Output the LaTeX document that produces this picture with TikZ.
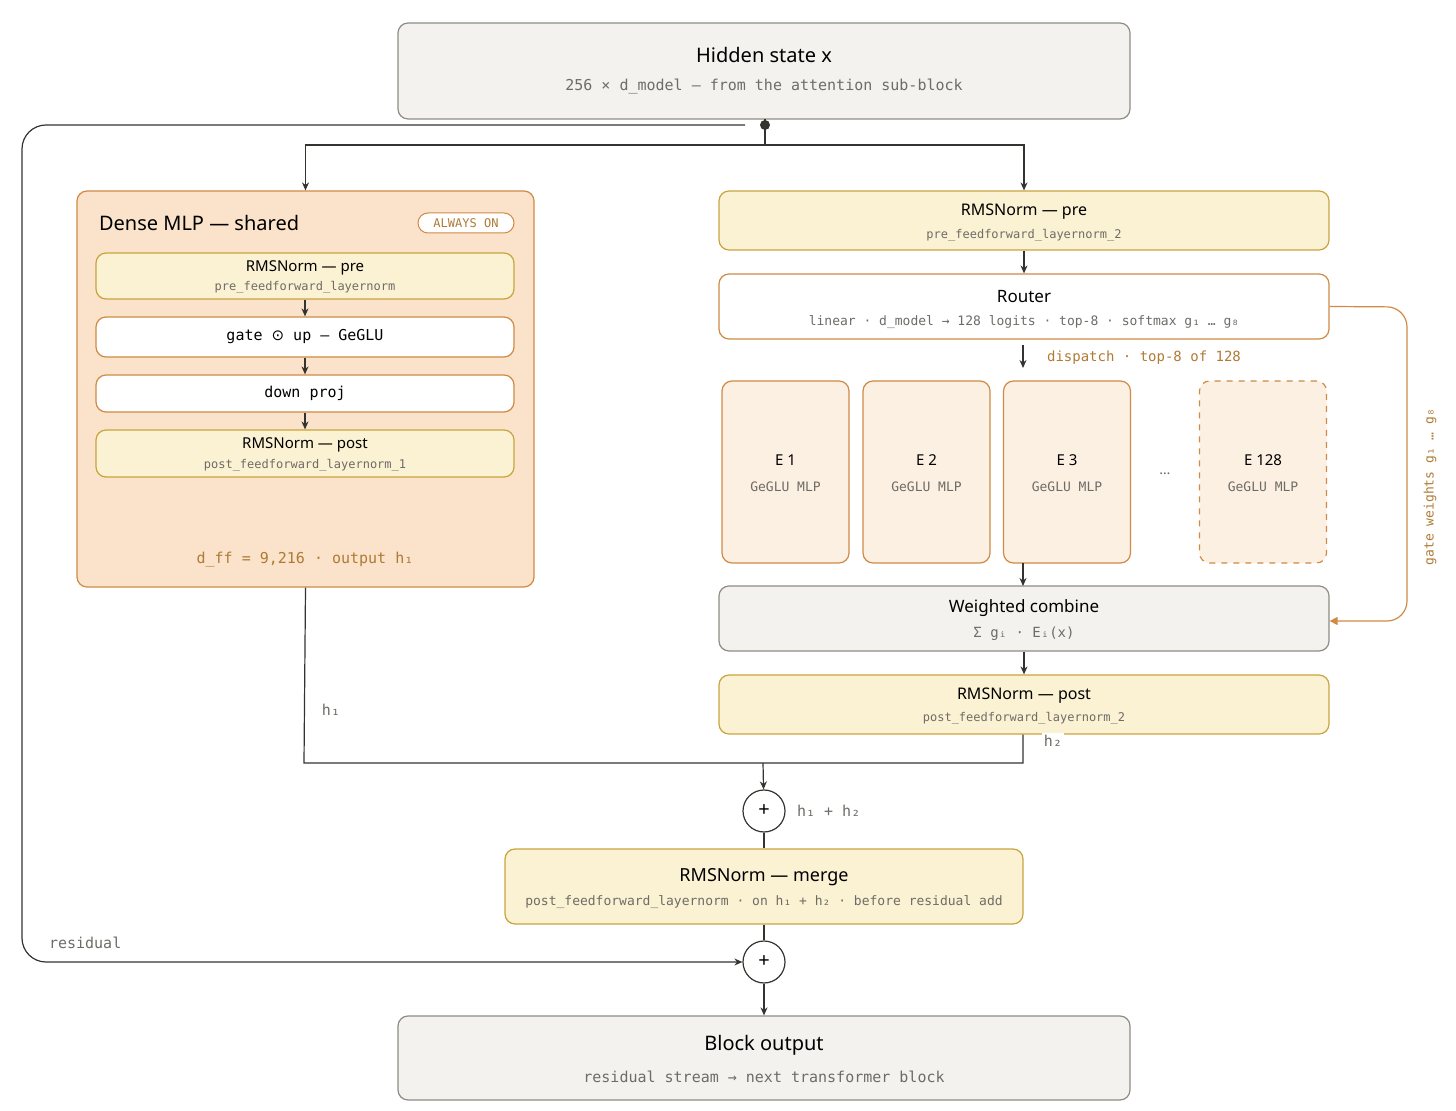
\documentclass[tikz,border=0pt]{standalone}
\usepackage{fontspec}
\setmainfont{Noto Sans}
\setmonofont{DejaVu Sans Mono}
\newfontfamily\symfont{DejaVu Sans}
\usetikzlibrary{arrows.meta,positioning}
\definecolor{ink}{HTML}{333330}
\definecolor{grayfill}{HTML}{F3F2EE}
\definecolor{graydraw}{HTML}{8E8C84}
\definecolor{yelfill}{HTML}{FBF1D3}
\definecolor{yeldraw}{HTML}{C9A43E}
\definecolor{orgdraw}{HTML}{CF8A45}
\definecolor{densefill}{HTML}{FAE3CA}
\definecolor{expfill}{HTML}{FCF0E3}
\definecolor{brown}{HTML}{B07A35}
\definecolor{subtxt}{HTML}{6E6C66}

\tikzset{
  box/.style={rounded corners=5pt, line width=0.6pt},
  graybox/.style={box, fill=grayfill, draw=graydraw},
  yelbox/.style={box, fill=yelfill, draw=yeldraw},
  whitebox/.style={box, fill=white, draw=orgdraw},
  expbox/.style={box, fill=expfill, draw=orgdraw, minimum width=63.5pt, minimum height=91pt},
  ttl/.style={font=\bfseries\fontsize{10}{12}\selectfont, text=black},
  lbl/.style={font=\fontsize{7.5}{9}\selectfont},
  sub/.style={font=\ttfamily\fontsize{6}{8}\selectfont, text=subtxt},
  arr/.style={-{Stealth[length=4pt,width=3.5pt]}, draw=ink, line width=0.6pt},
  plus/.style={circle, draw=ink, line width=0.6pt, fill=white, minimum size=21pt, inner sep=0pt, font=\fontsize{10}{10}\selectfont},
}

\begin{document}
\begin{tikzpicture}[x=0.5pt,y=-0.5pt]
\useasboundingbox (0,0) rectangle (1456,1111);

% top input
\node[graybox, minimum width=366pt, minimum height=48pt] (hid) at (764,71) {};
\node[ttl] (hidt) at (764,55) {Hidden state x};
\node[sub, font=\ttfamily\fontsize{7.5}{9}\selectfont] (hids) at (764,87) {256 × d\_model — from the attention sub-block};

% dense branch
\node[box, fill=densefill, draw=orgdraw, minimum width=228.5pt, minimum height=198pt] (dense) at (305.5,389) {};
\node[ttl, anchor=west] (denset) at (92,223) {Dense MLP — shared};
\node[draw=orgdraw, fill=white, rounded corners=5pt, line width=0.5pt, text=brown, font=\ttfamily\fontsize{6}{7}\selectfont, minimum width=48pt, minimum height=10pt, inner sep=1pt] (always) at (466,223) {ALWAYS ON};
\node[yelbox, minimum width=209pt, minimum height=23pt] (dpre) at (305,276) {};
\node[lbl, font=\bfseries\fontsize{7.5}{9}\selectfont] at (305,268) {RMSNorm — pre};
\node[sub] at (305,287) {pre\_feedforward\_layernorm};
\node[whitebox, minimum width=209pt, minimum height=20pt, font=\ttfamily\fontsize{7.5}{9}\selectfont] (dgate) at (305,337) {gate {\symfont ⊙} up — GeGLU};
\node[whitebox, minimum width=209pt, minimum height=18.5pt, font=\ttfamily\fontsize{7.5}{9}\selectfont] (ddown) at (305,393.5) {down proj};
\node[yelbox, minimum width=209pt, minimum height=23.5pt] (dpost) at (305,453.5) {};
\node[lbl, font=\bfseries\fontsize{7.5}{9}\selectfont] at (305,445) {RMSNorm — post};
\node[sub] at (305,465) {post\_feedforward\_layernorm\_1};
\node[font=\ttfamily\fontsize{7.5}{9}\selectfont, text=brown] (dff) at (305,560) {d\_ff = 9,216 · output h₁};
\draw[arr] (dpre) -- (dgate);
\draw[arr] (dgate) -- (ddown);
\draw[arr] (ddown) -- (dpost);

% moe branch
\node[yelbox, minimum width=305pt, minimum height=29.5pt] (mpre) at (1024,220.5) {};
\node[lbl, font=\bfseries\fontsize{8}{9}\selectfont] at (1024,212) {RMSNorm — pre};
\node[sub] at (1024,235) {pre\_feedforward\_layernorm\_2};
\node[whitebox, minimum width=305pt, minimum height=32.5pt] (router) at (1024,306.5) {};
\node[lbl, font=\bfseries\fontsize{8.5}{9}\selectfont] at (1024,297) {Router};
\node[sub, font=\ttfamily\fontsize{6.5}{8}\selectfont] at (1024,322) {linear · d\_model → 128 logits · top-8 · softmax g₁ … g₈};
\coordinate (disp) at (1023,368);
\draw[arr] (1023,345) -- (disp);
\node[anchor=west, font=\ttfamily\fontsize{7}{9}\selectfont, text=brown] (dispt) at (1040,358) {dispatch · top-8 of 128};

\foreach \i/\x in {1/785.5, 2/926.5, 3/1067} {
  \node[expbox] (e\i) at (\x,472) {};
  \node[font=\bfseries\fontsize{7.5}{9}\selectfont] at (\x,460) {E \i};
  \node[sub, font=\ttfamily\fontsize{6.5}{8}\selectfont] at (\x,487) {GeGLU MLP};
}
\node[font=\fontsize{7}{8}\selectfont, text=subtxt] (edots) at (1165,474) {…};
\node[expbox, dashed] (e128) at (1263,472) {};
\node[font=\bfseries\fontsize{7.5}{9}\selectfont] at (1263,460) {E 128};
\node[sub, font=\ttfamily\fontsize{6.5}{8}\selectfont] at (1263,487) {GeGLU MLP};

\node[graybox, minimum width=305pt, minimum height=32.5pt] (comb) at (1024,618.5) {};
\node[lbl, font=\bfseries\fontsize{8.5}{9}\selectfont] at (1024,608) {Weighted combine};
\node[sub, font=\ttfamily\fontsize{7}{8}\selectfont] at (1024,634) {Σ gᵢ · Eᵢ(x)};
\node[yelbox, minimum width=305pt, minimum height=29.5pt] (mpost) at (1024,704.5) {};
\node[lbl, font=\bfseries\fontsize{8}{9}\selectfont] at (1024,696) {RMSNorm — post};
\node[sub] at (1024,718) {post\_feedforward\_layernorm\_2};
\draw[arr] (mpre) -- (router);
\draw[arr] (1023,563) -- (1023,586);
\draw[arr] (comb) -- (mpost);
\draw[draw=orgdraw, line width=0.6pt, rounded corners=10pt, -{Triangle[length=4pt,width=4pt]}]
  (router.east) -- (1407,307) -- (1407,621) -- (comb.east |- 0,621);
\node[rotate=90, font=\ttfamily\fontsize{6.5}{8}\selectfont, text=brown] (gw) at (1430,487) {gate weights g₁ … g₈};

% split from input
\fill[ink] (765,125) circle (5);
\coordinate (split) at (765,145);
\draw[ink, line width=0.6pt] (765,119) -- (split);
\draw[arr] (split) -| (dense.north);
\draw[arr] (split) -| (mpre.north);

% merge of branches
\node[plus] (plus1) at (764,811) {+};
\node[anchor=west, font=\ttfamily\fontsize{7.5}{9}\selectfont, text=subtxt] (sumt) at (790,811) {h₁ + h₂};
\coordinate (join) at (763,763);
\draw[ink, line width=0.6pt] (dense.south) -- (304,763) -- (1023,763) -- (mpost.south -| 1023,0);
\node[font=\ttfamily\fontsize{7.5}{9}\selectfont, text=subtxt] (h1t) at (331,710) {h₁};
\node[fill=white, inner sep=1pt, font=\ttfamily\fontsize{7.5}{9}\selectfont, text=subtxt] (h2t) at (1053,741) {h₂};
\draw[arr] (join) -- (plus1);

\node[yelbox, minimum width=259pt, minimum height=37.5pt] (merge) at (764,886.5) {};
\node[lbl, font=\bfseries\fontsize{9}{10}\selectfont] at (764,877) {RMSNorm — merge};
\node[sub, font=\ttfamily\fontsize{6.5}{8}\selectfont] at (764,902) {post\_feedforward\_layernorm · on h₁ + h₂ · before residual add};
\draw[ink, line width=0.6pt] (plus1) -- (merge);

\node[plus] (plus2) at (764,962) {+};
\draw[ink, line width=0.6pt] (merge) -- (plus2);
\draw[arr, rounded corners=12pt] (745,125) -- (22,125) -- (22,962) -- (plus2.west);
\node[anchor=west, font=\ttfamily\fontsize{7.5}{9}\selectfont, text=subtxt] (rest) at (42,943) {residual};

\node[graybox, minimum width=366pt, minimum height=42pt] (out) at (764,1058) {};
\node[ttl] at (764,1045) {Block output};
\node[sub, font=\ttfamily\fontsize{7.5}{9}\selectfont] at (764,1077) {residual stream → next transformer block};
\draw[arr, line width=1.2pt] (plus2) -- (out);
\end{tikzpicture}
\end{document}
